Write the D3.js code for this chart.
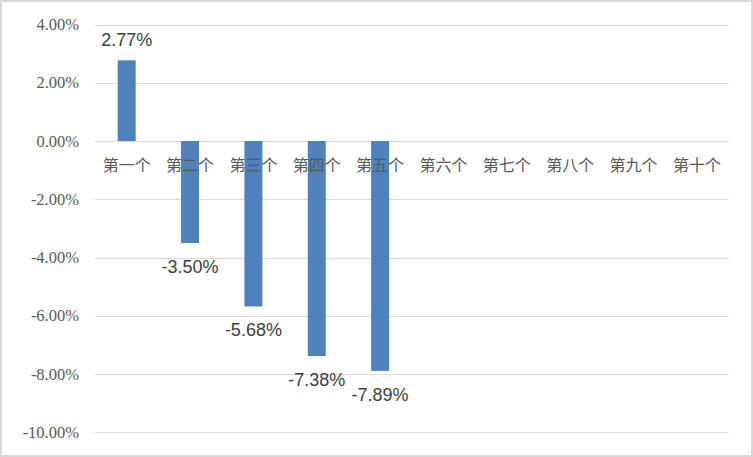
<!DOCTYPE html>
<html>
<head>
<meta charset="utf-8">
<script src="https://cdn.jsdelivr.net/npm/d3@7"></script>
<style>
  body { margin: 0; background: #fff; }
  svg { display: block; }
</style>
</head>
<body>
<svg id="canvas"></svg>
<script>
var W = 753;
var H = 457;
var categories = ['第一个', '第二个', '第三个', '第四个', '第五个', '第六个', '第七个', '第八个', '第九个', '第十个'];
var values = [2.77, -3.50, -5.68, -7.38, -7.89, null, null, null, null, null];
var labels = ['2.77%', '-3.50%', '-5.68%', '-7.38%', '-7.89%'];
var yTicks = [4, 2, 0, -2, -4, -6, -8, -10];

var svg = d3.select('#canvas').attr('width', W).attr('height', H);

// chart border
svg.append('rect')
  .attr('x', 1).attr('y', 1)
  .attr('width', W - 2).attr('height', H - 2)
  .style('fill', '#fff')
  .style('stroke', '#d9d9d9')
  .style('stroke-width', 2);

var x = d3.scaleBand()
  .domain(categories)
  .range([95, 728.6])
  .paddingInner(0.716)
  .paddingOuter(0.358);

var y = d3.scaleLinear()
  .domain([-10, 4])
  .range([432.3, 24.5]);

// gridlines
svg.append('g')
  .selectAll('line')
  .data(yTicks)
  .join('line')
  .attr('x1', 95).attr('x2', 728.6)
  .attr('y1', d => Math.round(y(d)) + 0.5)
  .attr('y2', d => Math.round(y(d)) + 0.5)
  .style('stroke', '#d9d9d9')
  .style('stroke-width', 1);

// y axis labels
svg.append('g')
  .selectAll('text')
  .data(yTicks)
  .join('text')
  .attr('x', 79)
  .attr('y', d => y(d) + 5.5)
  .attr('text-anchor', 'end')
  .style('font-family', '"Liberation Serif", serif')
  .style('font-size', '16.5px')
  .style('fill', '#595959')
  .text(d => d.toFixed(2) + '%');

var barData = categories.map((c, i) => ({ cat: c, v: values[i], label: labels[i] }))
  .filter(d => d.v != null);

// bars
svg.append('g')
  .selectAll('rect')
  .data(barData)
  .join('rect')
  .attr('x', d => x(d.cat))
  .attr('width', x.bandwidth())
  .attr('y', d => y(Math.max(0, d.v)))
  .attr('height', d => Math.abs(y(d.v) - y(0)))
  .style('fill', '#4f81bd');

// category labels
svg.append('g')
  .selectAll('text')
  .data(categories)
  .join('text')
  .attr('x', d => x(d) + x.bandwidth() / 2)
  .attr('y', 171)
  .attr('text-anchor', 'middle')
  .style('font-family', '"Noto Sans CJK SC", sans-serif')
  .style('font-size', '16px')
  .style('fill', '#595959')
  .text(d => d);

// data labels
svg.append('g')
  .selectAll('text')
  .data(barData)
  .join('text')
  .attr('x', d => x(d.cat) + x.bandwidth() / 2)
  .attr('y', d => d.v >= 0 ? y(d.v) - 14 : y(d.v) + 30)
  .attr('text-anchor', 'middle')
  .style('font-family', '"Liberation Sans", sans-serif')
  .style('font-size', '18px')
  .style('fill', '#404040')
  .text(d => d.label);
</script>
</body>
</html>
